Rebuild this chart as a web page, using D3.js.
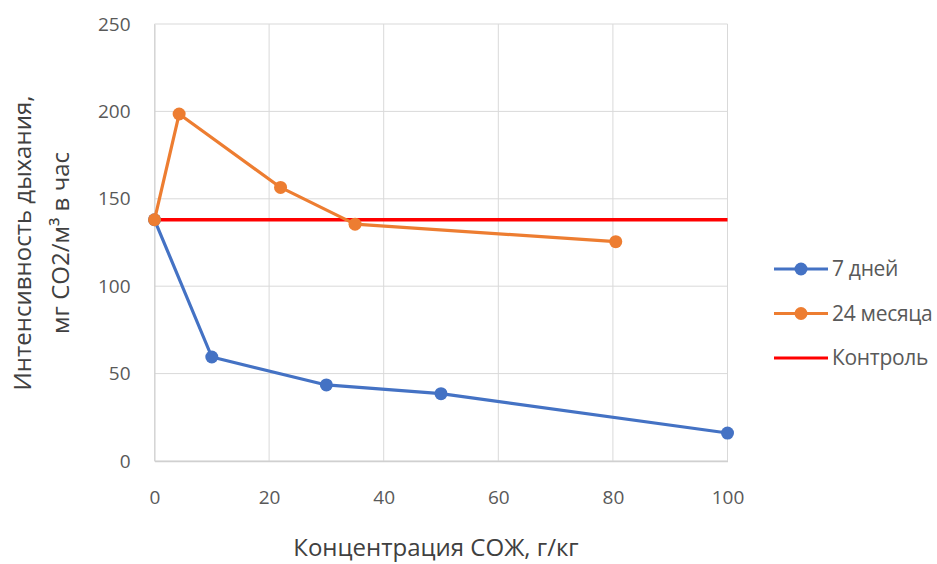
<!DOCTYPE html>
<html>
<head>
<meta charset="utf-8">
<script src="https://cdn.jsdelivr.net/npm/d3@7"></script>
<style>
  html, body { margin: 0; padding: 0; background: #fff; }
  svg { display: block; }
</style>
</head>
<body>
<svg id="chart" width="937" height="564"></svg>
<script>
// Respiration intensity vs. coolant concentration
const series7Days = [
  { x: 0, y: 138 }, { x: 10, y: 59.5 }, { x: 30, y: 43.5 }, { x: 50, y: 38.5 }, { x: 100, y: 16 }
];
const series24Months = [
  { x: 0, y: 138 }, { x: 4.3, y: 198.5 }, { x: 22, y: 156.5 }, { x: 35, y: 135.5 }, { x: 80.5, y: 125.5 }
];
const controlLevel = 138;
const controlRange = [0, 100];
const xTicks = [0, 20, 40, 60, 80, 100];
const yTicks = [0, 50, 100, 150, 200, 250];
const seriesNames = ["7 дней", "24 месяца", "Контроль"];
const xTitle = "Концентрация СОЖ, г/кг";
const yTitleLines = ["Интенсивность дыхания,", "мг CO2/м³ в час"];

const colors = { blue: "#4472C4", orange: "#ED7D31", red: "#FF0000" };
const textFont = "'Open Sans', 'Noto Sans', sans-serif";

const svg = d3.select("#chart");
const x = d3.scaleLinear().domain([0, 100]).range([154.5, 727.5]);
const y = d3.scaleLinear().domain([0, 250]).range([461, 24]);

// gridlines
const grid = svg.append("g");
grid.selectAll("line.v").data(xTicks).join("line")
  .attr("x1", d => x(d)).attr("x2", d => x(d))
  .attr("y1", y(0)).attr("y2", y(250))
  .attr("stroke", "#d9d9d9").attr("stroke-width", 1);
grid.selectAll("line.h").data(yTicks).join("line")
  .attr("x1", x(0)).attr("x2", x(100))
  .attr("y1", d => y(d)).attr("y2", d => y(d))
  .attr("stroke", "#d9d9d9").attr("stroke-width", 1);

// axes (labels only, lines drawn by grid)
const xAxis = svg.append("g").attr("transform", `translate(0,${y(0)})`)
  .call(d3.axisBottom(x).tickValues(xTicks).tickSize(0).tickPadding(30));
xAxis.select(".domain").attr("stroke", "#d0d0d0").attr("stroke-width", 1.5);
xAxis.selectAll("text").attr("font-family", textFont).attr("font-size", 19).attr("fill", "#595959");

const yAxis = svg.append("g").attr("transform", `translate(${x(0)},0)`)
  .call(d3.axisLeft(y).tickValues(yTicks).tickSize(0).tickPadding(24));
yAxis.select(".domain").attr("stroke", "#d0d0d0").attr("stroke-width", 1);
yAxis.selectAll("text").attr("font-family", textFont).attr("font-size", 19).attr("fill", "#595959");

// control line
svg.append("line")
  .attr("x1", x(controlRange[0])).attr("x2", x(controlRange[1]))
  .attr("y1", y(controlLevel)).attr("y2", y(controlLevel))
  .attr("stroke", colors.red).attr("stroke-width", 3.5);

const line = d3.line().x(d => x(d.x)).y(d => y(d.y));

function drawSeries(data, color) {
  const g = svg.append("g");
  g.append("path").datum(data).attr("d", line)
    .attr("fill", "none").attr("stroke", color).attr("stroke-width", 3.2)
    .attr("stroke-linejoin", "round");
  g.selectAll("circle").data(data).join("circle")
    .attr("cx", d => x(d.x)).attr("cy", d => y(d.y)).attr("r", 6.5)
    .attr("fill", color);
}
drawSeries(series7Days, colors.blue);
drawSeries(series24Months, colors.orange);

// legend
const legend = svg.append("g").attr("transform", "translate(774,269)");
const legendItems = [
  { name: seriesNames[0], color: colors.blue, marker: true },
  { name: seriesNames[1], color: colors.orange, marker: true },
  { name: seriesNames[2], color: colors.red, marker: false }
];
legendItems.forEach((it, i) => {
  const g = legend.append("g").attr("transform", `translate(0,${i * 44.5})`);
  g.append("line").attr("x1", 0).attr("x2", 54).attr("y1", 0).attr("y2", 0)
    .attr("stroke", it.color).attr("stroke-width", 3.2);
  if (it.marker) g.append("circle").attr("cx", 27).attr("cy", 0).attr("r", 6.5).attr("fill", it.color);
  g.append("text").attr("x", 58).attr("y", 0).attr("dy", "0.35em")
    .attr("font-family", textFont).attr("font-size", 21).attr("fill", "#595959")
    .attr("letter-spacing", -0.3)
    .text(it.name);
});

// axis titles
svg.append("text").attr("x", 436).attr("y", 556)
  .attr("text-anchor", "middle")
  .attr("font-family", textFont).attr("font-size", 24).attr("fill", "#404040")
  .text(xTitle);

const yt = svg.append("text")
  .attr("transform", "translate(0,243) rotate(-90)")
  .attr("text-anchor", "middle")
  .attr("font-family", textFont).attr("font-size", 24).attr("fill", "#404040");
yt.append("tspan").attr("x", 0).attr("y", 31).text(yTitleLines[0]);
yt.append("tspan").attr("x", 0).attr("y", 69).text(yTitleLines[1]);
</script>
</body>
</html>
